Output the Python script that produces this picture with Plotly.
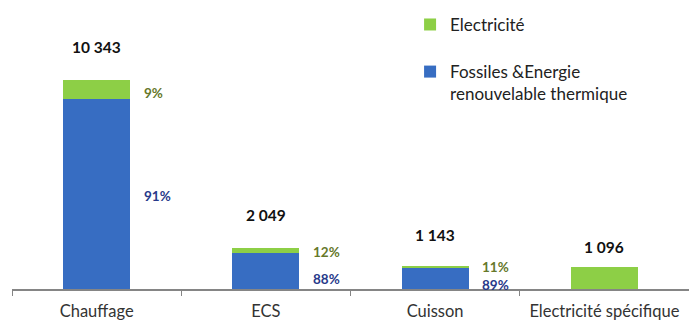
import plotly.graph_objects as go

# Energy consumption by end use, split between fossil/thermal renewable and electricity
categories = ["Chauffage", "ECS", "Cuisson", "Electricité spécifique"]
totals = [10343, 2049, 1143, 1096]
total_labels = ["10 343", "2 049", "1 143", "1 096"]
fossil_pct = [91, 88, 89, 0]
elec_pct = [9, 12, 11, 100]

fossil_vals = [t * p / 100 for t, p in zip(totals, fossil_pct)]
elec_vals = [t - f for t, f in zip(totals, fossil_vals)]

BLUE = "#376dc2"
GREEN = "#8dcf46"
FONT = "Lato"

fig = go.Figure()
fig.add_trace(go.Bar(
    x=categories, y=fossil_vals, name="Fossiles &Energie<br>renouvelable thermique",
    marker=dict(color=BLUE, line=dict(width=0)), legendgroup="f", legendrank=2,
    hoverinfo="skip",
))
fig.add_trace(go.Bar(
    x=categories, y=elec_vals, name="Electricité",
    marker=dict(color=GREEN, line=dict(width=0)), legendgroup="e", legendrank=1,
    hoverinfo="skip",
))

annotations = []
# totals above each bar
total_shift = [33, 33, 31, 20]
for cat, tot, lab, s in zip(categories, totals, total_labels, total_shift):
    annotations.append(dict(
        x=cat, y=tot, text=f"<b>{lab}</b>", showarrow=False,
        yanchor="middle", yshift=s, font=dict(family=FONT, size=15.5, color="#111111"),
    ))

# share labels beside the stacked bars
elec_shift = [-4, -2, 0]
fossil_shift = [-2, -8, -6]
for i, cat in enumerate(categories):
    if fossil_pct[i] == 0:
        continue
    annotations.append(dict(
        x=cat, y=totals[i] - elec_vals[i] / 2, text=f"<b>{elec_pct[i]}%</b>",
        showarrow=False, xanchor="left", xshift=46, yanchor="middle", borderpad=0,
        yshift=elec_shift[i], font=dict(family=FONT, size=13.5, color="#66782a"),
    ))
    annotations.append(dict(
        x=cat, y=fossil_vals[i] / 2, text=f"<b>{fossil_pct[i]}%</b>",
        showarrow=False, xanchor="left", xshift=46, yanchor="middle", borderpad=0,
        yshift=fossil_shift[i], font=dict(family=FONT, size=13.5, color="#283a8a"),
    ))

fig.update_layout(
    width=689, height=323,
    margin=dict(l=12, r=0, t=0, b=34),
    paper_bgcolor="white", plot_bgcolor="white",
    barmode="stack", bargap=0.604,
    font=dict(family=FONT, size=15, color="#333333"),
    showlegend=True,
    legend=dict(
        x=0.588, y=0.976, xanchor="left", yanchor="top",
        traceorder="grouped", tracegroupgap=22, valign="top",
        font=dict(family=FONT, size=17, color="#222222"),
        bgcolor="rgba(0,0,0,0)",
    ),
    annotations=annotations,
)
fig.update_xaxes(
    range=[-0.5, 3.5], showline=True, linecolor="#858585", linewidth=2,
    ticks="outside", tickson="boundaries", ticklen=5, tickcolor="#858585",
    tickwidth=1, ticklabelstandoff=6, showgrid=False, zeroline=False,
    tickfont=dict(family=FONT, size=16.5, color="#333333"),
)
fig.update_yaxes(range=[0, 14302], visible=False, showgrid=False, zeroline=False)

fig.write_html("out.html")
